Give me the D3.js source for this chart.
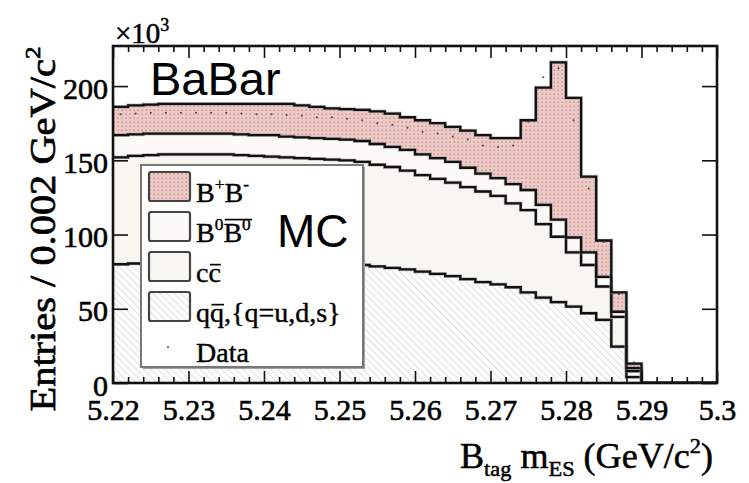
<!DOCTYPE html>
<html><head><meta charset="utf-8">
<script src="https://cdn.jsdelivr.net/npm/d3@7"></script>
<style>html,body{margin:0;padding:0;background:#fff;} svg{display:block;} text{white-space:pre;}</style>
</head><body>
<script>
// ---- data (units of 10^3 entries per 0.002 GeV/c^2) ----
const binLow = [5.220,5.222,5.224,5.226,5.228,5.230,5.232,5.234,5.236,5.238,
                5.240,5.242,5.244,5.246,5.248,5.250,5.252,5.254,5.256,5.258,
                5.260,5.262,5.264,5.266,5.268,5.270,5.272,5.274,5.276,5.278,
                5.280,5.282,5.284,5.286,5.288,5.290,5.292,5.294,5.296,5.298];
const qqbar  = [80,80.5,81,81,81,81,81,81,81,81,81,81,81,80.5,80,79.5,79.5,78.5,77.5,76.5,
                75,73.5,72,70,68,66.5,64.5,61,57.5,54.5,51.5,47,42.5,24.5,4,0,0,0,0,0];
const ccbar  = [72,72.5,72.5,73,73,73,73,73,72.5,72,71.5,71,70.5,70.5,70.5,70.5,69.5,68.5,68,66.5,
                65,64,63,62,61,59.5,56.5,55.5,49.5,44,36.5,32.5,22.5,20,4,0,0,0,0,0];
const b0b0bar= [15,14.5,14.5,14,14,14,14,14,14,14,14.5,14,14,14,14,14,14,14,13.5,14,
                14,14,14,13,12,12,13,13.5,13,11.5,10,8.5,6.5,3.5,2,0,0,0,0,0];
const bpbm   = [19,19.5,19.5,20,20,20,20,20,20.5,21,21,22,21.5,21,20.5,20.5,21,22,22.5,22,
                23,23.5,23.5,25,26,27,31,47,79,106,94,51,24.5,13,3,0,0,0,0,0];
const dataPts= [181,181.5,182,182,182,182,182,182,181.5,181,181,180.5,180,179,179,178,177,175,174,172,
                169,168,166,164,160,159,160,176,206,212,177,131,95,60,14,0,0,0,0,0];
const xMajor = [5.22,5.23,5.24,5.25,5.26,5.27,5.28,5.29,5.30];
const yMajor = [0,50,100,150,200];
const binW = 0.002;

const W=749,H=483;
const L=113,R=717,T=46,B=383;
const serif = "'Liberation Serif','Times New Roman',serif";
const sans = "'Liberation Sans',Arial,sans-serif";

const svg = d3.select('body').append('svg').attr('width',W).attr('height',H);
const defs = svg.append('defs');
const pk = defs.append('pattern').attr('id','pink').attr('width',4).attr('height',4).attr('patternUnits','userSpaceOnUse');
pk.append('rect').attr('width',4).attr('height',4).attr('fill','#ebcac8');
pk.append('rect').attr('x',1.5).attr('y',1.5).attr('width',1.3).attr('height',1.3).attr('fill','#c77c79');
const ht = defs.append('pattern').attr('id','hatch').attr('width',5).attr('height',5)
  .attr('patternUnits','userSpaceOnUse').attr('patternTransform','rotate(-45)');
ht.append('rect').attr('width',5).attr('height',5).attr('fill','#fdfdfd');
ht.append('line').attr('x1',0).attr('y1',0).attr('x2',0).attr('y2',5).attr('stroke','#d4d9df').attr('stroke-width',1.5);
defs.append('clipPath').attr('id','clip').append('rect').attr('x',L).attr('y',T).attr('width',R-L).attr('height',B-T);

const x = d3.scaleLinear().domain([5.22,5.30]).range([L,R]);
const y = d3.scaleLinear().domain([0,227]).range([B,T]);

const rows = binLow.map((b,i)=>({x:b, qq:qqbar[i], cc:ccbar[i], b0:b0b0bar[i], bp:bpbm[i]}));
rows.push({x:5.30, qq:0, cc:0, b0:0, bp:0});
const keys = ['qq','cc','b0','bp'];
const stack = d3.stack().keys(keys)(rows);
const fills = {qq:'url(#hatch)', cc:'#f8f6f0', b0:'#fbfaf6', bp:'url(#pink)'};

const plot = svg.append('g').attr('clip-path','url(#clip)');
const area = d3.area().curve(d3.curveStepAfter).x(d=>x(d.data.x)).y0(d=>y(d[0])).y1(d=>y(d[1]));
const line = d3.line().curve(d3.curveStepAfter).x(d=>x(d.data.x)).y(d=>y(d[1]));
stack.forEach(s=>{
  plot.append('path').attr('d',area(s)).attr('fill',fills[s.key]);
});
stack.forEach(s=>{
  plot.append('path').attr('d',line(s)).attr('fill','none').attr('stroke','#9a9a9a').attr('stroke-width',3.6).attr('opacity',0.6);
  plot.append('path').attr('d',line(s)).attr('fill','none').attr('stroke','#111').attr('stroke-width',2.3);
});
// data points
plot.selectAll('circle.dp').data(dataPts).join('circle')
  .attr('cx',(d,i)=>x(binLow[i]+binW/2)).attr('cy',d=>y(d)).attr('r',1).attr('fill','#444');

// axes
const xMinor = binLow.filter(v=>!xMajor.some(m=>Math.abs(m-v)<1e-6));
function clean(g){ g.select('.domain').remove(); g.selectAll('line').attr('stroke','#111').attr('stroke-width',1.6); }
function tstyle(g){ g.selectAll('text').attr('font-family',serif).attr('font-size',30).attr('fill','#000')
  .attr('stroke','#000').attr('stroke-width',0.6); }
svg.append('g').attr('transform',`translate(0,${B})`)
  .call(d3.axisBottom(x).tickValues(xMajor).tickSize(-12).tickPadding(16)
    .tickFormat(d=>Math.abs(d-5.3)<1e-9?'5.3':d3.format('.2f')(d)))
  .call(clean).call(tstyle);
svg.append('g').attr('transform',`translate(0,${B})`)
  .call(d3.axisBottom(x).tickValues(xMinor).tickSize(-6).tickFormat('')).call(clean);
svg.append('g').attr('transform',`translate(0,${T})`)
  .call(d3.axisTop(x).tickValues(xMajor).tickSize(-12).tickFormat('')).call(clean);
svg.append('g').attr('transform',`translate(0,${T})`)
  .call(d3.axisTop(x).tickValues(xMinor).tickSize(-6).tickFormat('')).call(clean);
svg.append('g').attr('transform',`translate(${L},0)`)
  .call(d3.axisLeft(y).tickValues(yMajor).tickSize(-15).tickPadding(5).tickFormat(d3.format('d')))
  .call(clean).call(tstyle).call(g=>g.selectAll('text').attr('dy','0.4em'));
svg.append('g').attr('transform',`translate(${R},0)`)
  .call(d3.axisRight(y).tickValues(yMajor).tickSize(-15).tickFormat('')).call(clean);
svg.append('rect').attr('x',L).attr('y',T).attr('width',R-L).attr('height',B-T)
  .attr('fill','none').attr('stroke','#111').attr('stroke-width',2.6);

// rich text helper
function rich(g, segs, size, fam, sw){
  let cx=0;
  segs.forEach(s=>{
    const fs = s.k ? size*0.62 : size;
    const dy = s.k==='sup' ? -size*0.42 : s.k==='sub' ? size*0.24 : 0;
    const t = g.append('text').attr('x',cx).attr('y',dy).attr('font-size',fs)
      .attr('font-family',fam||serif).attr('fill','#000').text(s.t);
    if (sw) t.attr('stroke','#000').attr('stroke-width',sw);
    const w = t.node().getComputedTextLength();
    if (s.bar){
      const by = dy - fs*(s.bar);
      g.append('line').attr('x1',cx+fs*0.05).attr('x2',cx+w+(s.ext||0)).attr('y1',by).attr('y2',by)
        .attr('stroke','#000').attr('stroke-width',Math.max(1.4,fs*0.06));
    }
    cx += w;
  });
  return cx;
}

// x10^3
const ex = svg.append('g').attr('transform','translate(115,43)');
rich(ex,[{t:'×10'},{t:'3',k:'sup'}],29,serif,0.5);

// y title
const yt = svg.append('g');
const ytIn = yt.append('g');
const yw = rich(ytIn,[{t:'Entries / 0.002 GeV/c'},{t:'2',k:'sup'}],35,serif,0.7);
yt.attr('transform',`translate(55,229) rotate(-90) scale(${365/yw},1) translate(${-yw/2},0)`);

// x title
const xt = svg.append('g');
const xtIn = xt.append('g');
const xw = rich(xtIn,[{t:'B'},{t:'tag',k:'sub'},{t:' m'},{t:'ES',k:'sub'},{t:' (GeV/c'},{t:'2',k:'sup'},{t:')'}],35,serif,0.5);
xt.attr('transform',`translate(586.5,468) scale(${253/xw},1) translate(${-xw/2},0)`);

// legend
svg.append('rect').attr('x',143).attr('y',167).attr('width',222).attr('height',202).attr('fill','#a0a0a0');
svg.append('rect').attr('x',141).attr('y',165).attr('width',222).attr('height',202)
  .attr('fill','#fff').attr('stroke','#777').attr('stroke-width',2);
const leg = [
  {fill:'url(#pink)', segs:[{t:'B'},{t:'+',k:'sup'},{t:'B'},{t:'-',k:'sup'}]},
  {fill:'#fbfaf6', segs:[{t:'B'},{t:'0',k:'sup'},{t:'B',bar:0.8,ext:10},{t:'0',k:'sup'}]},
  {fill:'#f8f6f0', segs:[{t:'c'},{t:'c',bar:0.62}]},
  {fill:'url(#hatch)', segs:[{t:'q'},{t:'q',bar:0.62},{t:',{q=u,d,s}'}]},
  {fill:null, segs:[{t:'Data'}]}
];
leg.forEach((e,k)=>{
  const yy = 172 + 40*k;
  if (e.fill){
    svg.append('rect').attr('x',149).attr('y',yy).attr('width',41).attr('height',29).attr('rx',2)
      .attr('fill',e.fill).attr('stroke','#444').attr('stroke-width',2.2);
  } else {
    svg.append('circle').attr('cx',168).attr('cy',yy+15).attr('r',1).attr('fill','#444');
  }
  const g = svg.append('g').attr('transform',`translate(196,${yy+30})`);
  rich(g, e.segs, 28, serif, 0.4);
});

// labels
svg.append('text').attr('x',150).attr('y',95).attr('font-family',sans).attr('font-size',47).attr('fill','#000').text('BaBar');
svg.append('text').attr('x',277).attr('y',247).attr('font-family',sans).attr('font-size',46).attr('fill','#000').text('MC');
</script>
</body></html>
